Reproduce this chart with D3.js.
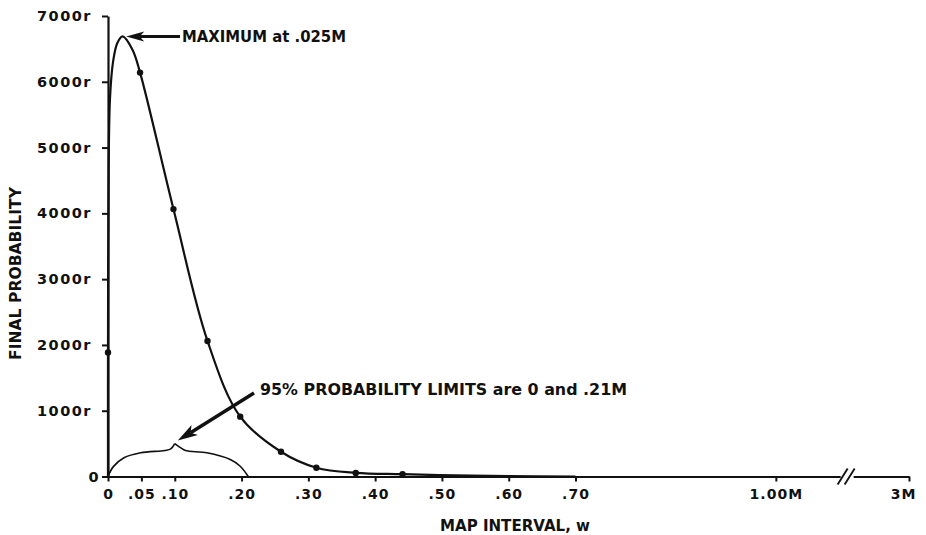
<!DOCTYPE html>
<html>
<head>
<meta charset="utf-8">
<script src="https://cdn.jsdelivr.net/npm/d3@7"></script>
<style>
  body { margin: 0; background: #fff; }
  svg { display: block; font-family: "DejaVu Sans", sans-serif; }
</style>
</head>
<body>
<svg id="chart" width="926" height="535"></svg>
<script>
// values (w in map-interval units, p in r)
const curveW = [0, 0, 0.001, 0.003, 0.0075, 0.014, 0.022, 0.0365, 0.048, 0.098, 0.149, 0.198, 0.259, 0.312, 0.371, 0.441, 0.52, 0.6, 0.7];
const curveP = [0, 1885, 4700, 5750, 6300, 6590, 6690, 6490, 6140, 4065, 2060, 910, 376, 134, 55, 35, 16, 6, 0];

const dotW = [0, 0.048, 0.098, 0.149, 0.198, 0.259, 0.312, 0.371, 0.441];
const dotP = [1885, 6140, 4065, 2060, 910, 376, 134, 55, 35];

// the curly brace marking the 95% limits (0 to .21)
const braceLeftW = [0, 0.008, 0.024, 0.049, 0.085, 0.094, 0.1];
const braceLeftP = [0, 150, 284, 360, 395, 420, 500];
const braceRightW = [0.1, 0.109, 0.116, 0.148, 0.183, 0.198, 0.21];
const braceRightP = [500, 435, 395, 360, 258, 156, 0];

const xTickW = [0, 0.05, 0.10, 0.20, 0.30, 0.40, 0.50, 0.60, 0.70, 1.00, 3.00];
const xTickLabels = ['0', '.05', '.10', '.20', '.30', '.40', '.50', '.60', '.70', '1.00M', '3M'];
const yTickP = [0, 1000, 2000, 3000, 4000, 5000, 6000, 7000];
const yTickLabels = ['0', '1000r', '2000r', '3000r', '4000r', '5000r', '6000r', '7000r'];

const peakW = 0.022, peakP = 6690;
const breakW = 1.106;

const ink = '#111';
const svg = d3.select('#chart');

// broken x scale: linear up to 1.00M, then squeezed to 3M
const x = d3.scaleLinear().domain([0, 1.12, 3]).range([108, 856, 909]);
const y = d3.scaleLinear().domain([0, 7000]).range([476.5, 16]);

// x axis
const gx = svg.append('g')
  .attr('transform', `translate(0,${y(0)})`)
  .call(d3.axisBottom(x)
    .tickValues(xTickW)
    .tickFormat((d, i) => xTickLabels[i])
    .tickSize(5)
    .tickSizeOuter(0)
    .tickPadding(8));
gx.attr('font-family', null).attr('font-size', null);
gx.select('.domain').attr('stroke', ink).attr('stroke-width', 2.2);
gx.selectAll('.tick line').attr('stroke', ink).attr('stroke-width', 2);
gx.selectAll('.tick text')
  .attr('fill', ink)
  .attr('font-size', 14)
  .attr('font-weight', 'bold')
  .attr('letter-spacing', 1);
gx.selectAll('.tick text').filter((d, i) => i === xTickW.length - 1).attr('dx', -6);

// axis break //
const bx = x(breakW);
gx.append('rect').attr('x', bx - 6).attr('y', -3).attr('width', 13).attr('height', 6).attr('fill', '#fff');
[-4, 3].forEach(off => {
  gx.append('line')
    .attr('x1', bx + off - 5).attr('y1', 8)
    .attr('x2', bx + off + 5).attr('y2', -8)
    .attr('stroke', ink).attr('stroke-width', 1.8);
});

// y axis
const gy = svg.append('g')
  .attr('transform', `translate(${x(0)},0)`)
  .call(d3.axisLeft(y)
    .tickValues(yTickP)
    .tickFormat((d, i) => yTickLabels[i])
    .tickSize(6)
    .tickSizeOuter(0)
    .tickPadding(10));
gy.attr('font-family', null).attr('font-size', null);
gy.select('.domain').attr('stroke', ink).attr('stroke-width', 2.2);
gy.selectAll('.tick line').attr('stroke', ink).attr('stroke-width', 2);
gy.selectAll('.tick text')
  .attr('fill', ink)
  .attr('font-size', 14.5)
  .attr('font-weight', 'bold')
  .attr('letter-spacing', 1.5);
gy.selectAll('.tick text').filter(d => d === 0).attr('x', -8);

// main curve
const line = d3.line()
  .x(d => x(d[0]))
  .y(d => y(d[1]))
  .curve(d3.curveCatmullRom.alpha(0.5));

svg.append('path')
  .datum(curveW.map((w, i) => [w, curveP[i]]))
  .attr('d', line)
  .attr('fill', 'none')
  .attr('stroke', ink)
  .attr('stroke-width', 2.2);

svg.selectAll('circle.dot')
  .data(dotW.map((w, i) => [w, dotP[i]]))
  .join('circle')
  .attr('class', 'dot')
  .attr('cx', d => x(d[0]))
  .attr('cy', d => y(d[1]))
  .attr('r', 3.2)
  .attr('fill', ink);

// brace
[[braceLeftW, braceLeftP], [braceRightW, braceRightP]].forEach(([ws, ps]) => {
  svg.append('path')
    .datum(ws.map((w, i) => [w, ps[i]]))
    .attr('d', line)
    .attr('fill', 'none')
    .attr('stroke', ink)
    .attr('stroke-width', 1.6);
});

// arrow helper: shaft from (x0,y0) to tip (x1,y1)
function arrow(x0, y0, x1, y1, headLen, headHalf, width) {
  const a = Math.atan2(y1 - y0, x1 - x0);
  const ux = Math.cos(a), uy = Math.sin(a);
  const px = -uy, py = ux;
  const bx = x1 - ux * headLen, by = y1 - uy * headLen;
  const nx = x1 - ux * headLen * 0.75, ny = y1 - uy * headLen * 0.75;
  svg.append('line')
    .attr('x1', x0).attr('y1', y0)
    .attr('x2', nx).attr('y2', ny)
    .attr('stroke', ink).attr('stroke-width', width);
  svg.append('path')
    .attr('d', `M${x1},${y1}L${bx + px * headHalf},${by + py * headHalf}L${nx},${ny}L${bx - px * headHalf},${by - py * headHalf}Z`)
    .attr('fill', ink);
}

// MAXIMUM annotation
const tipX = x(peakW) + 3.5, tipY = y(peakP);
arrow(180, tipY, tipX, tipY, 18, 5, 3);
svg.append('text')
  .attr('x', 182).attr('y', 42)
  .attr('font-size', 15).attr('font-weight', 'bold')
  .attr('textLength', 164).attr('lengthAdjust', 'spacingAndGlyphs')
  .attr('fill', ink)
  .text('MAXIMUM at .025M');

// 95% limits annotation
arrow(254, 393, x(0.1) + 3, y(500) - 3, 20, 6, 3.5);
svg.append('text')
  .attr('x', 260).attr('y', 395)
  .attr('font-size', 15).attr('font-weight', 'bold')
  .attr('textLength', 367).attr('lengthAdjust', 'spacingAndGlyphs')
  .attr('fill', ink)
  .text('95% PROBABILITY LIMITS are 0 and .21M');

// axis titles
svg.append('text')
  .attr('transform', 'translate(21,273.5) rotate(-90)')
  .attr('text-anchor', 'middle')
  .attr('font-size', 15).attr('font-weight', 'bold')
  .attr('textLength', 173).attr('lengthAdjust', 'spacingAndGlyphs')
  .attr('fill', ink)
  .text('FINAL PROBABILITY');

svg.append('text')
  .attr('x', 440).attr('y', 531)
  .attr('font-size', 15).attr('font-weight', 'bold')
  .attr('textLength', 150).attr('lengthAdjust', 'spacingAndGlyphs')
  .attr('fill', ink)
  .text('MAP INTERVAL, w');
</script>
</body>
</html>
